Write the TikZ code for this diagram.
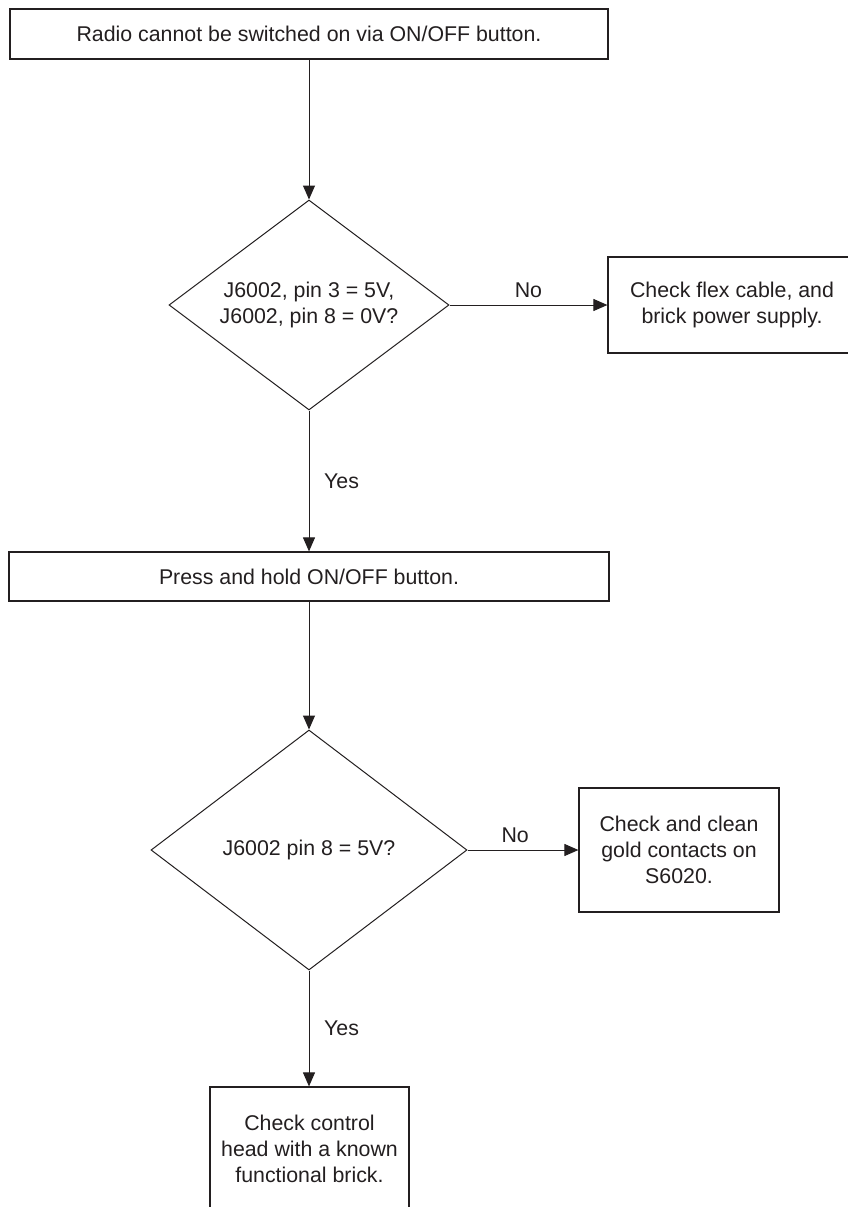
\documentclass[tikz,border=0pt]{standalone}
\usepackage{fontspec}
\setmainfont{Liberation Sans}
\usetikzlibrary{shapes.geometric,arrows.meta}
\definecolor{ink}{HTML}{231F20}
\begin{document}
\begin{tikzpicture}[x=0.75pt,y=-0.75pt,
  every node/.style={font=\fontsize{16}{19.5}\selectfont, text=ink},
  procbox/.style={draw=ink, line width=0.9pt, rectangle, inner sep=0pt, align=center, fill=white},
  decbox/.style={draw=ink, line width=0.75pt, diamond, inner sep=0pt, align=center},
  flow/.style={draw=ink, line width=0.75pt, -{Triangle[length=10.5pt,width=9pt]}},
  lbl/.style={inner sep=2pt}]
\useasboundingbox (0,0) rectangle (848,1207);
\fill[white] (0,0) rectangle (848,1207);

\node[procbox, minimum width=448.5pt, minimum height=37.5pt] (start) at (309,34) {Radio cannot be switched on via ON/OFF button.};
\node[decbox, aspect=1.333, minimum width=210pt, minimum height=157.5pt] (d1) at (309,305) {J6002, pin 3 = 5V,\\J6002, pin 8 = 0V?};
\node[procbox, minimum width=186pt, minimum height=72pt] (flex) at (732,305) {Check flex cable, and\\brick power supply.};
\node[procbox, minimum width=450pt, minimum height=36.75pt] (press) at (309,576.5) {Press and hold ON/OFF button.};
\node[decbox, aspect=1.317, minimum width=237pt, minimum height=180pt] (d2) at (309,850) {J6002 pin 8 = 5V?};
\node[procbox, minimum width=150pt, minimum height=93pt] (clean) at (679,850) {Check and clean\\gold contacts on\\S6020.};
\node[procbox, minimum width=149.25pt, minimum height=92.25pt] (head) at (309.5,1148.5) {Check control\\head with a known\\functional brick.};

\draw[flow] (start.south) -- (d1.north);
\draw[flow] (d1.east) -- node[above, lbl, yshift=3pt] (no1) {No} (flex.west);
\draw[flow] (d1.south) -- node[right, lbl, xshift=9pt] (yes1) {Yes} (press.north);
\draw[flow] (press.south) -- (d2.north);
\draw[flow] (d2.east) -- node[above, lbl, yshift=3pt, pos=0.43] (no2) {No} (clean.west);
\draw[flow] (d2.south) -- node[right, lbl, xshift=9pt] (yes2) {Yes} (head.north -| d2.south);
\end{tikzpicture}
\end{document}
